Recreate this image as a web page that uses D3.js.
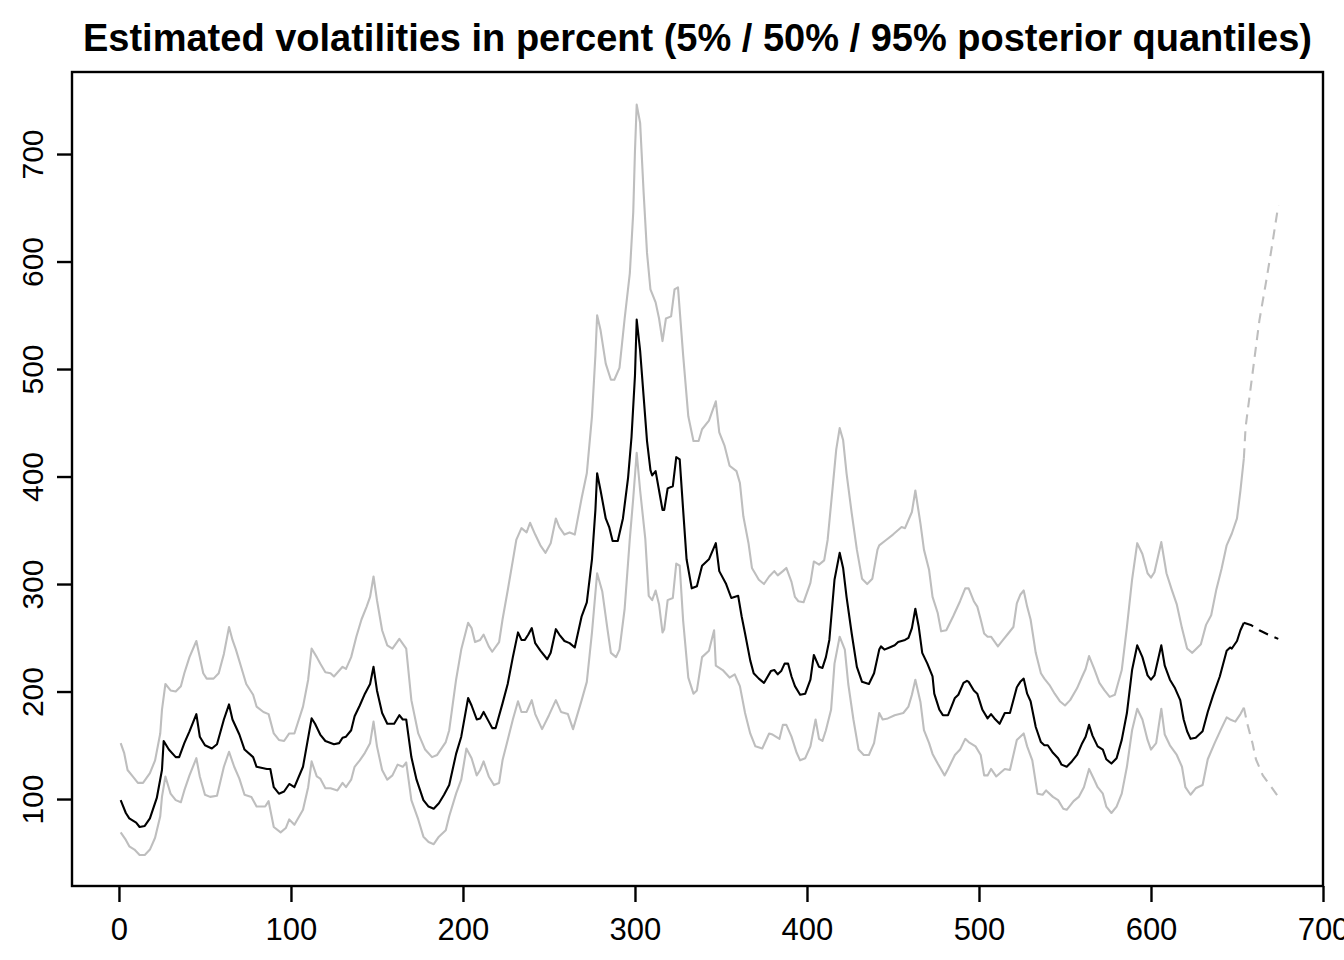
<!DOCTYPE html>
<html>
<head>
<meta charset="utf-8">
<script src="https://cdn.jsdelivr.net/npm/d3@7"></script>
<style>
  html, body { margin: 0; padding: 0; background: #fff; }
  svg { display: block; font-family: "Liberation Sans", Arial, sans-serif; }
</style>
</head>
<body>
<svg id="chart" width="1344" height="960"></svg>
<script>
const title = "Estimated volatilities in percent (5% / 50% / 95% posterior quantiles)";
const xTicks = [0, 100, 200, 300, 400, 500, 600, 700];
const yTicks = [100, 200, 300, 400, 500, 600, 700];

// median (50%) in-sample: [time, volatility %]
const median = [[1,99],[4,87],[6,82],[10,78],[12,74],[15,75],[18,82],[22,101],[25,127],[26,154],[29,146],[33,139],[35,139],[38,152],[41,163],[45,179],[47,158],[50,150],[54,147],[57,151],[61,174],[64,188],[66,174],[70,160],[73,146],[78,139],[80,130],[86,128],[88,128],[90,111],[93,105],[96,107],[99,114],[102,111],[107,130],[112,175],[114,170],[117,160],[120,154],[125,151],[128,152],[130,157],[132,158],[135,164],[137,177],[140,187],[143,198],[146,207],[148,223],[150,201],[153,180],[156,170],[160,170],[163,178],[165,174],[167,174],[170,139],[173,118],[177,99],[180,93],[183,91],[186,96],[189,104],[192,113],[196,142],[199,158],[203,194],[205,187],[208,174],[210,175],[212,181],[215,172],[217,166],[219,166],[223,189],[226,207],[229,232],[232,255],[234,248],[236,248],[238,253],[240,259],[242,245],[245,238],[249,230],[251,236],[254,258],[256,253],[259,247],[262,245],[265,241],[269,270],[272,283],[275,323],[277,369],[278,403],[280,387],[283,361],[285,353],[287,340],[290,340],[293,361],[296,399],[298,437],[300,494],[301,546],[303,517],[305,475],[307,433],[309,406],[310,401],[312,405],[314,387],[316,369],[317,369],[319,389],[322,391],[324,418],[326,416],[328,369],[330,323],[333,296],[336,298],[339,317],[343,323],[347,338],[349,312],[353,300],[356,287],[360,289],[362,270],[364,254],[367,229],[369,217],[372,212],[375,208],[379,219],[381,220],[383,216],[385,219],[387,226],[389,226],[391,214],[393,205],[396,197],[399,198],[402,211],[404,234],[407,223],[409,222],[411,232],[413,248],[416,304],[419,329],[421,315],[423,288],[426,254],[429,223],[432,209],[436,207],[439,217],[442,239],[443,242],[445,239],[448,241],[451,243],[453,246],[457,248],[459,250],[461,259],[463,277],[465,260],[467,236],[470,226],[473,214],[474,198],[477,183],[479,178],[482,178],[484,186],[486,194],[488,197],[491,208],[493,210],[494,209],[497,201],[499,198],[502,183],[505,175],[507,179],[509,175],[512,170],[515,180],[518,180],[522,204],[524,209],[526,212],[528,198],[530,191],[533,167],[536,153],[538,150],[540,150],[543,143],[546,138],[548,132],[551,130],[554,135],[557,141],[560,152],[562,158],[564,169],[566,159],[569,149],[572,146],[574,137],[577,133],[580,138],[583,155],[586,180],[589,220],[592,243],[595,232],[598,215],[600,211],[602,215],[606,243],[608,224],[611,211],[614,203],[617,192],[619,174],[621,163],[623,156],[626,157],[630,163],[633,181],[636,196],[640,214],[644,238],[646,241],[647,240],[650,247],[652,257],[654,264]];

// 95% quantile in-sample
const upper = [[1,152],[3,143],[5,127],[8,121],[11,115],[14,115],[18,124],[21,136],[24,161],[25,183],[27,207],[30,201],[33,200],[36,205],[38,217],[41,232],[45,247],[47,232],[49,217],[51,212],[55,212],[58,217],[61,235],[64,260],[66,248],[68,239],[71,223],[74,207],[78,197],[80,186],[84,181],[87,179],[90,161],[93,155],[96,154],[99,161],[102,161],[107,186],[110,211],[112,240],[115,232],[117,226],[120,218],[123,217],[125,214],[130,223],[132,221],[135,232],[138,251],[141,267],[144,279],[146,288],[148,307],[150,285],[153,257],[156,243],[159,240],[163,249],[167,240],[170,192],[174,161],[178,146],[182,139],[185,141],[190,153],[192,164],[196,211],[199,239],[203,264],[205,259],[207,246],[210,248],[212,253],[215,242],[217,237],[221,246],[223,267],[226,294],[229,322],[231,341],[234,352],[237,348],[239,357],[242,346],[245,336],[248,329],[251,338],[254,361],[256,353],[259,346],[262,348],[265,346],[269,380],[272,403],[275,456],[277,513],[278,550],[280,536],[283,505],[286,490],[288,490],[291,501],[294,547],[297,589],[299,646],[300,703],[301,746],[303,729],[305,665],[307,608],[309,574],[312,562],[314,547],[316,526],[318,547],[321,549],[323,574],[325,576],[328,513],[331,456],[334,433],[337,433],[339,444],[343,452],[347,470],[349,441],[352,429],[355,410],[359,405],[361,394],[363,363],[366,338],[368,315],[372,304],[375,300],[378,307],[381,312],[383,308],[386,312],[388,315],[391,302],[393,288],[395,284],[398,283],[402,301],[404,321],[407,318],[410,322],[412,341],[415,391],[417,425],[419,445],[421,434],[423,403],[426,366],[429,332],[432,305],[435,300],[438,305],[441,332],[442,336],[446,341],[450,346],[455,353],[457,352],[461,367],[463,387],[466,356],[468,332],[471,313],[473,288],[476,273],[478,256],[481,257],[485,270],[489,284],[492,296],[494,296],[497,284],[499,279],[501,267],[503,254],[505,251],[507,251],[511,242],[514,248],[517,254],[520,260],[522,282],[524,290],[526,294],[528,279],[530,267],[533,236],[536,217],[538,212],[541,206],[544,198],[547,191],[550,187],[553,192],[557,203],[560,214],[562,221],[564,233],[567,221],[570,208],[573,201],[576,195],[579,197],[583,220],[586,260],[589,304],[592,338],[595,328],[598,310],[600,306],[602,311],[606,339],[609,310],[612,295],[615,281],[618,259],[621,240],[624,236],[629,244],[632,262],[635,271],[638,295],[641,314],[644,336],[647,347],[650,361],[652,387],[654,417]];

// 5% quantile in-sample
const lower = [[1,69],[4,62],[6,56],[9,53],[12,48],[15,48],[18,53],[21,64],[24,84],[25,102],[27,121],[30,105],[33,99],[36,97],[38,108],[41,122],[45,138],[47,121],[50,104],[53,102],[57,103],[61,130],[64,144],[67,130],[70,119],[73,104],[77,102],[80,93],[85,93],[87,98],[90,74],[94,69],[97,73],[99,81],[102,76],[107,90],[110,111],[112,135],[115,121],[117,119],[120,110],[123,110],[127,108],[130,115],[132,111],[135,118],[137,130],[140,136],[143,143],[146,152],[148,172],[150,149],[153,127],[156,118],[159,122],[162,132],[165,130],[167,134],[170,99],[174,81],[177,65],[180,60],[183,58],[186,65],[190,71],[192,84],[196,105],[199,118],[202,147],[205,138],[208,122],[210,127],[212,135],[215,121],[218,113],[221,115],[223,136],[226,155],[229,174],[232,191],[234,181],[237,181],[240,192],[242,179],[246,165],[250,178],[254,192],[257,181],[261,179],[264,165],[269,192],[272,209],[275,255],[278,310],[281,293],[284,258],[286,236],[289,232],[291,239],[294,277],[297,342],[299,380],[301,422],[303,387],[306,342],[308,289],[310,285],[312,294],[314,281],[316,255],[317,258],[319,285],[322,287],[324,319],[326,317],[328,266],[331,213],[334,198],[336,201],[339,232],[343,238],[346,257],[347,224],[351,220],[355,213],[358,216],[361,205],[364,180],[367,161],[370,149],[374,147],[378,161],[380,160],[384,156],[386,169],[388,169],[391,158],[394,143],[396,136],[399,138],[402,149],[405,174],[407,156],[409,154],[411,164],[414,183],[416,226],[419,251],[422,239],[424,207],[427,174],[430,146],[433,141],[436,141],[439,152],[442,180],[444,174],[447,175],[451,178],[456,180],[459,186],[461,197],[463,211],[466,190],[468,164],[471,152],[473,142],[476,133],[480,122],[482,128],[486,141],[489,146],[492,156],[494,153],[498,149],[501,141],[503,122],[505,122],[507,128],[510,121],[515,128],[518,127],[522,155],[526,161],[528,149],[531,136],[534,105],[537,104],[539,108],[543,102],[546,99],[549,91],[551,90],[555,98],[558,102],[561,111],[564,128],[567,118],[569,111],[572,105],[574,93],[577,87],[580,93],[583,105],[586,130],[589,164],[592,184],[595,174],[598,155],[600,146],[603,152],[606,184],[608,160],[611,150],[615,141],[618,130],[620,111],[623,104],[626,110],[630,113],[633,137],[637,152],[641,166],[644,176],[646,174],[649,172],[652,179],[654,185]];

// forecasts (dashed)
const medianForecast = [[654,264],[658,262],[663,257],[668,253],[674,249]];
const upperForecast = [[654,417],[655,446],[660,508],[663,545],[667,582],[670,611],[674,652]];
const lowerForecast = [[654,185],[656,170],[659,152],[661,137],[665,122],[670,111],[674,102]];

const svg = d3.select("#chart");
const mLeft = 72, mRight = 1323, mTop = 72, mBottom = 886;

const x = d3.scaleLinear().domain([-27.3, 700]).range([mLeft, mRight]);
const y = d3.scaleLinear().domain([19.1, 776.3]).range([mBottom, mTop]);

const line = d3.line().x(d => x(d[0])).y(d => y(d[1]));

const gray = "#BEBEBE";
const lw = 2.1;

function drawLine(data, color, dashed) {
  svg.append("path")
    .datum(data)
    .attr("d", line)
    .attr("fill", "none")
    .attr("stroke", color)
    .attr("stroke-width", lw)
    .attr("stroke-linejoin", "round")
    .attr("stroke-dasharray", dashed ? "10,7" : null);
}

drawLine(upper, gray, false);
drawLine(lower, gray, false);
drawLine(upperForecast, gray, true);
drawLine(lowerForecast, gray, true);
drawLine(median, "#000", false);
drawLine(medianForecast, "#000", true);

// box
svg.append("rect")
  .attr("x", mLeft).attr("y", mTop)
  .attr("width", mRight - mLeft).attr("height", mBottom - mTop)
  .attr("fill", "none").attr("stroke", "#000").attr("stroke-width", 2.4);

// x axis
const gx = svg.append("g")
  .attr("transform", `translate(0,${mBottom})`)
  .call(d3.axisBottom(x).tickValues(xTicks).tickSize(16).tickFormat(d3.format("d")));
gx.select(".domain").remove();
gx.selectAll(".tick line").attr("stroke", "#000").attr("stroke-width", 2.4);
gx.selectAll(".tick text")
  .attr("y", 54).attr("dy", null)
  .attr("fill", "#000")
  .style("font-size", "31px")
  .style("font-family", '"Liberation Sans", Arial, sans-serif');

// y axis
const gy = svg.append("g")
  .attr("transform", `translate(${mLeft},0)`)
  .call(d3.axisLeft(y).tickValues(yTicks).tickSize(15).tickFormat(d3.format("d")));
gy.select(".domain").remove();
gy.selectAll(".tick line").attr("stroke", "#000").attr("stroke-width", 2.4);
gy.selectAll(".tick text")
  .attr("x", null).attr("dy", null)
  .attr("text-anchor", "middle")
  .attr("transform", "translate(-29,0) rotate(-90)")
  .attr("fill", "#000")
  .style("font-size", "30px")
  .style("font-family", '"Liberation Sans", Arial, sans-serif');

// title
svg.append("text")
  .attr("x", (mLeft + mRight) / 2)
  .attr("y", 51)
  .attr("text-anchor", "middle")
  .attr("font-weight", "bold")
  .attr("font-size", 38)
  .attr("fill", "#000")
  .text(title);
</script>
</body>
</html>
